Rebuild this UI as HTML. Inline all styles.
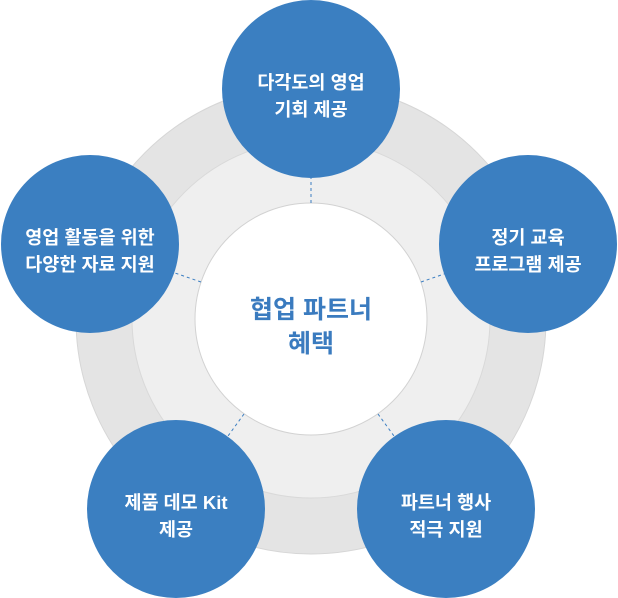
<!DOCTYPE html>
<html><head><meta charset="utf-8"><style>
html,body{margin:0;padding:0;background:#fff;}
svg{display:block;}
text{font-family:"Liberation Sans","Noto Sans CJK KR",sans-serif;font-weight:bold;text-anchor:middle;}
</style></head><body>
<svg width="618" height="598" viewBox="0 0 618 598" xmlns="http://www.w3.org/2000/svg">
<circle cx="311" cy="319" r="235" fill="#e4e4e4" stroke="#d6d6d6" stroke-width="1"/>
<circle cx="311" cy="319" r="179" fill="#efefef" stroke="#d9d9d9" stroke-width="1"/>
<circle cx="311" cy="319" r="116" fill="#fff" stroke="#d2d2d2" stroke-width="1"/>
<g stroke="#3b7ec2" stroke-width="1" stroke-dasharray="3,3">
<line x1="311" y1="203" x2="311" y2="178"/>
<line x1="201" y1="282" x2="175" y2="273"/>
<line x1="421" y1="282" x2="447" y2="273"/>
<line x1="244" y1="414" x2="228" y2="436"/>
<line x1="378" y1="414" x2="394" y2="436"/>
</g>
<g fill="#3b7fc1">
<circle cx="311" cy="89" r="89"/>
<circle cx="90" cy="244" r="89"/>
<circle cx="528" cy="244" r="89"/>
<circle cx="176" cy="509" r="89"/>
<circle cx="446" cy="509" r="89"/>
</g>
<g fill="#fff" font-size="18.5">
<text x="311" y="89">다각도의 영업</text>
<text x="311" y="116">기회 제공</text>
<text x="90" y="244">영업 활동을 위한</text>
<text x="90" y="271">다양한 자료 지원</text>
<text x="528" y="244">정기 교육</text>
<text x="528" y="271">프로그램 제공</text>
<text x="176" y="509">제품 데모 Kit</text>
<text x="176" y="536">제공</text>
<text x="446" y="509">파트너 행사</text>
<text x="446" y="536">적극 지원</text>
</g>
<g fill="#3a7bbf" font-size="25">
<text x="311" y="318">협업 파트너</text>
<text x="311" y="352">혜택</text>
</g>
</svg>
</body></html>
